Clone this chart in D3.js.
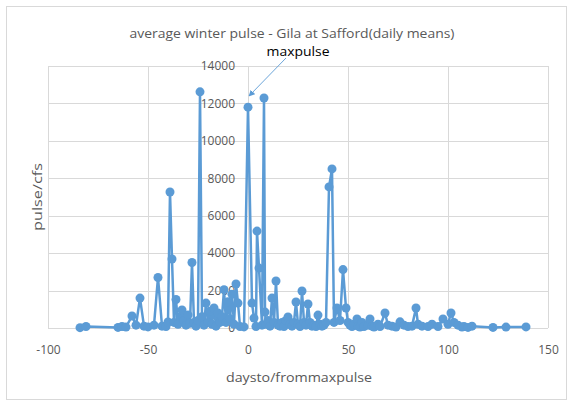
<!DOCTYPE html>
<html><head><meta charset="utf-8">
<script src="https://cdn.jsdelivr.net/npm/d3@7"></script>
<style>body{margin:0;background:#fff;} svg{display:block;}</style>
</head><body>
<svg id="c" width="569" height="406"></svg>
<script>
const titleText = "average winter pulse - Gila at Safford(daily means)";
const xTitle = "daysto/frommaxpulse";
const yTitle = "pulse/cfs";
const annotation = "maxpulse";
const xTicks = [-100, -50, 0, 50, 100, 150];
const yTicks = [0, 2000, 4000, 6000, 8000, 10000, 12000, 14000];
const days = [-84,-81,-65,-63,-61,-58,-56,-54,-52,-50,-47,-45,-43,-41,-40,-39,-38,-37,-36,-35,-34,-33,-32,-31,-30,-29,-28,-27,-26,-25,-24,-23,-22,-21,-20,-19,-18,-17,-16,-15,-14,-13,-12,-11,-10,-9,-8,-7,-6,-5,-4,-2,0,2,3,4,4.5,5.5,7,8,8.5,9,10,11,12,13,14,15,16,17,18,19,20,21,22,23,24,25,26,27,28,29,30,31,32,33,34,35,36,37,38,39,40.5,42,43,44.5,46,47.5,49,50,51,52,53,54.5,55,56,57,58,60,61,62,63,65,66,68.5,70,72,74,76,78,80,82,84,85,87,90,92,95,97.5,100,101.5,103,105,107,108,110,112,122.5,129,139];
const pulse = [20,80,30,80,50,640,150,1600,100,60,150,2700,100,80,320,7270,3690,300,1520,200,600,960,400,150,700,250,3500,300,100,400,12620,600,150,1330,300,900,200,1070,100,800,300,600,2050,300,1400,500,1800,200,2350,1330,80,60,11800,1330,530,80,5180,3200,150,12290,850,200,400,100,1600,300,2510,150,100,300,80,400,590,200,100,300,1390,200,80,1980,300,150,1280,300,100,150,80,690,200,100,150,300,7540,8500,300,1070,400,3120,1070,300,150,80,200,480,100,50,300,80,150,480,100,50,200,80,800,150,100,50,330,150,80,100,1070,200,100,80,200,80,480,200,800,300,150,50,80,30,100,30,50,60];

const svg = d3.select("#c");
const font = "'Open Sans', 'Noto Sans', sans-serif";
const grey = "#595959", grid = "#d9d9d9", blue = "#5B9BD5";
const fmt = d => String(d);

svg.append("rect").attr("x",6.5).attr("y",6.5).attr("width",560).attr("height",393)
  .attr("fill","#fff").attr("stroke",grid);

const x = d3.scaleLinear().domain([-100,150]).range([48,548]);
const y = d3.scaleLinear().domain([0,14000]).range([328,66]);

const g = svg.append("g");
g.selectAll("line.h").data(yTicks).join("line")
  .attr("x1",48).attr("x2",548).attr("y1",d=>Math.round(y(d))+0.5).attr("y2",d=>Math.round(y(d))+0.5)
  .attr("stroke",grid).attr("stroke-width",1);
g.selectAll("line.v").data(xTicks).join("line")
  .attr("y1",66).attr("y2",328).attr("x1",d=>Math.round(x(d))+0.5).attr("x2",d=>Math.round(x(d))+0.5)
  .attr("stroke",grid).attr("stroke-width",1);

// x tick labels
const xa = d3.axisBottom(x).tickValues(xTicks).tickFormat(fmt).tickSize(0).tickPadding(0);
const xg = svg.append("g").attr("transform","translate(0,345)").call(xa);
xg.select(".domain").remove();
xg.selectAll("text").attr("fill",grey).style("font-family",font).style("font-size","12px").attr("dy","0.71em");

// y tick labels (axis crosses at 0)
const ya = d3.axisLeft(y).tickValues(yTicks).tickFormat(fmt).tickSize(0).tickPadding(0);
const yg = svg.append("g").attr("transform",`translate(${x(0)-13},0)`).call(ya);
yg.select(".domain").remove();
yg.selectAll("text").attr("fill",grey).style("font-family",font).style("font-size","12px");

// series
const line = d3.line().x((d,i)=>x(days[i])).y((d,i)=>y(pulse[i]));
svg.append("path").datum(pulse).attr("d",line).attr("fill","none")
  .attr("stroke",blue).attr("stroke-width",2.5).attr("stroke-linejoin","round");
svg.selectAll("circle.p").data(pulse).join("circle")
  .attr("cx",(d,i)=>x(days[i])).attr("cy",d=>y(d)).attr("r",4.5).attr("fill",blue);

// title
svg.append("text").attr("x",292).attr("y",38).attr("text-anchor","middle")
  .attr("fill",grey).style("font-family",font).style("font-size","13px")
  .attr("textLength",325).attr("lengthAdjust","spacingAndGlyphs").text(titleText);
// axis titles
svg.append("text").attr("x",299).attr("y",382).attr("text-anchor","middle")
  .attr("fill",grey).style("font-family",font).style("font-size","13px")
  .attr("textLength",146).attr("lengthAdjust","spacingAndGlyphs").text(xTitle);
svg.append("text").attr("transform","translate(42,197) rotate(-90)").attr("text-anchor","middle")
  .attr("fill",grey).style("font-family",font).style("font-size","13px")
  .attr("textLength",68).attr("lengthAdjust","spacingAndGlyphs").text(yTitle);

// annotation
svg.append("defs").append("marker").attr("id","ah").attr("viewBox","0 0 10 10")
  .attr("refX",9).attr("refY",5).attr("markerWidth",7).attr("markerHeight",7).attr("orient","auto")
  .append("path").attr("d","M0,0 L10,5 L0,10 z").attr("fill",blue);
svg.append("line").attr("x1",286).attr("y1",58).attr("x2",x(0)+1).attr("y2",96)
  .attr("stroke",blue).attr("stroke-width",0.9).attr("marker-end","url(#ah)");
svg.append("text").attr("x",298).attr("y",56).attr("text-anchor","middle")
  .attr("fill","#000").style("font-family",font).style("font-size","13px")
  .attr("textLength",63).attr("lengthAdjust","spacingAndGlyphs").text(annotation);
</script>
</body></html>
